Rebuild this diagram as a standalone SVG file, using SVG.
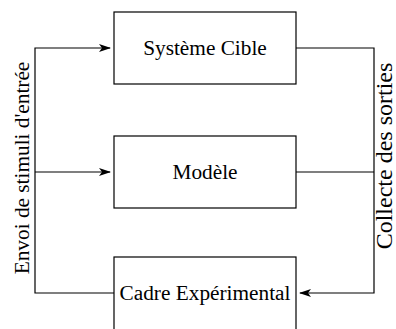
<svg xmlns="http://www.w3.org/2000/svg" width="396" height="329" viewBox="0 0 396 329">
<defs>
<style>
.box{fill:#fff;stroke:#000;stroke-width:1.2}
.ln{fill:none;stroke:#000;stroke-width:1.2}
.t{font-family:'Liberation Serif','Times New Roman',serif;font-size:21.3px;fill:#000}
</style>
<marker id="ah" markerWidth="12" markerHeight="8" refX="11" refY="4" orient="auto" markerUnits="userSpaceOnUse">
<path d="M0,0 L12,4 L0,8 L3,4 Z" fill="#000"/>
</marker>
</defs>
<rect width="396" height="329" fill="#fff"/>
<g id="connectors">
<polyline class="ln" points="114,293 35,293 35,48 110,48" marker-end="url(#ah)"/>
<line class="ln" x1="35" y1="172" x2="110" y2="172" marker-end="url(#ah)"/>
<polyline class="ln" points="296,48 374,48 374,293 300,293" marker-end="url(#ah)"/>
<line class="ln" x1="296" y1="172" x2="374" y2="172"/>
<text class="t" transform="translate(29,168) rotate(-90)" text-anchor="middle">Envoi de stimuli d'entrée</text>
<text class="t" style="font-size:24px" transform="translate(392,156) rotate(-90)" text-anchor="middle">Collecte des sorties</text>
</g>
<g id="systeme-cible">
<rect class="box" x="114" y="12" width="182" height="72"/>
<text class="t" x="205" y="55" text-anchor="middle">Système Cible</text>
</g>
<g id="modele">
<rect class="box" x="114" y="136" width="182" height="72"/>
<text class="t" x="205" y="179" text-anchor="middle">Modèle</text>
</g>
<g id="cadre-experimental">
<rect class="box" x="114" y="257" width="182" height="80"/>
<text class="t" x="205" y="300" text-anchor="middle">Cadre Expérimental</text>
</g>
</svg>
